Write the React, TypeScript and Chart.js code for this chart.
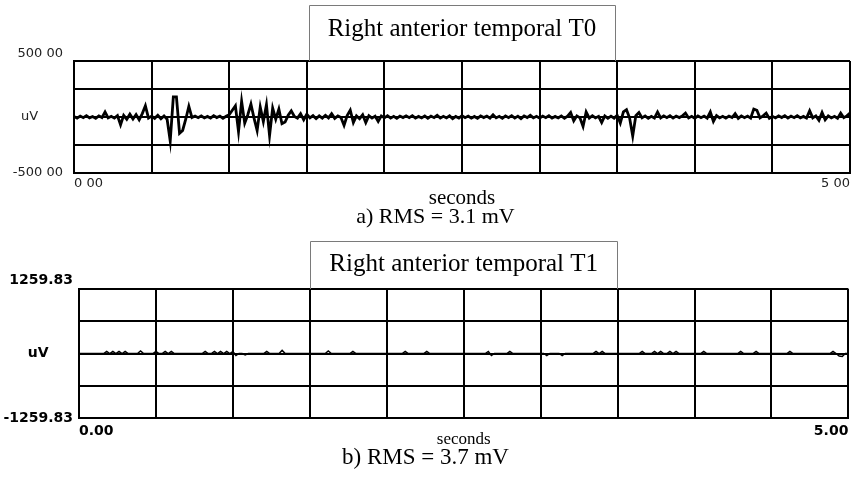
import React, { useEffect, useRef } from 'react';
import { Chart, registerables } from 'chart.js';

Chart.register(...registerables);

// ---------- data ----------
const TIME_STEP_S = 0.02; // one sample every 20 ms, 0 .. 5 s

const xTickValues = [0, 0.5, 1, 1.5, 2, 2.5, 3, 3.5, 4, 4.5, 5];
const topXTickLabels = ['0 00', '', '', '', '', '', '', '', '', '', '5 00'];
const bottomXTickLabels = ['0.00', '', '', '', '', '', '', '', '', '', '5.00'];

const topYTickValues = [-500, -250, 0, 250, 500];
const topYTickLabels = ['-500 00', '', 'uV', '', '500 00'];
const bottomYTickValues = [-1259.83, -629.915, 0, 629.915, 1259.83];
const bottomYTickLabels = ['-1259.83', '', 'uV', '', '1259.83'];

const topTitle = 'Right anterior temporal T0';
const topCaption = 'a) RMS = 3.1 mV';
const bottomTitle = 'Right anterior temporal T1';
const bottomCaption = 'b) RMS = 3.7 mV';
const xAxisTitle = 'seconds';

// T0 signal in uV (251 samples)
const topSignalUV = [
  5, -10, 8, -6, 12, -8, 4, -12, 10, -5,
  45, -8, 6, -10, 12, -70, 15, -20, 25, -18,
  22, -25, 30, 100, -10, 8, -12, 15, -15, 10,
  -20, -215, 180, 180, -145, -120, -20, 95, -5, 8,
  -6, 10, -8, 5, -10, 12, -5, 8, -12, 6,
  20, 60, 100, -130, 140, -55, 20, 115, -10, -120,
  90, -40, 110, -165, 80, -20, 70, -60, -45, 15,
  55, 5, -10, 30, -25, 25, -8, 12, -15, 10,
  -10, 15, -8, 30, -12, 10, -5, -75, 12, 60,
  -50, 10, -15, 20, -50, 12, -10, 8, -40, 10,
  -8, 12, -10, 6, -12, 8, -5, 10, -6, 12,
  -10, 5, -8, 10, -12, 8, -6, 15, -10, 6,
  -8, 10, -15, 5, -10, 12, -6, 8, -10, 5,
  -12, 10, -5, 8, -10, 20, -8, 6, -12, 10,
  -6, 12, -10, 8, -14, 10, -5, 15, -8, 6,
  -10, 8, -6, 12, -10, 5, -8, 10, -12, 8,
  40, -35, 10, -8, -85, 45, -10, 12, -8, 6,
  -50, 10, -12, 8, -10, 15, -55, 45, 65, -10,
  -170, 12, 40, -8, 10, -12, 6, -10, 45, -8,
  10, -6, 12, -10, 8, -5, 10, 35, -8, 6,
  -12, 10, -6, 8, -10, 45, -40, 12, -8, 6,
  -10, 8, -5, 30, -12, 10, -6, 8, -10, 70,
  60, -8, 10, 35, -12, 6, -8, 10, -5, 12,
  -10, 8, -6, 12, -8, 5, -10, 55, -8, 10,
  -30, 40, -25, 10, -8, 6, -12, 35, -6, 10, 35,
];

// T1 signal in uV (251 samples)
const bottomSignalUV = [
  0, 0, 0, 0, 0, 0, 0, 0, 0, 40,
  0, 40, 0, 40, 0, 40, 0, 0, 0, 0,
  50, 0, 0, 0, 0, 40, 0, 0, 40, 0,
  40, 0, 0, 0, 0, 0, 0, 0, 0, 0,
  0, 40, 0, 0, 40, 0, 40, 0, 40, 0,
  40, -40, 0, 0, -30, 0, 0, 0, 0, 0,
  0, 40, 0, 0, 0, 0, 60, 0, 0, 0,
  0, 0, 0, 0, 0, 0, 0, 0, 0, 0,
  0, 50, 0, 0, 0, 0, 0, 0, 0, 40,
  0, 0, 0, 0, 0, 0, 0, 0, 0, 0,
  0, 0, 0, 0, 0, 0, 40, 0, 0, 0,
  0, 0, 0, 40, 0, 0, 0, 0, 0, 0,
  0, 0, 0, 0, 0, 0, 0, 0, 0, 0,
  0, 0, 0, 40, -40, 0, 0, 0, 0, 0,
  40, 0, 0, 0, 0, 0, 0, 0, 0, 0,
  0, 0, -40, 0, 0, 0, 0, -40, 0, 0,
  0, 0, 0, 0, 0, 0, 0, 0, 40, 0,
  40, 0, 0, 0, 0, 0, 0, 0, 0, 0,
  0, 0, 0, 40, 0, 0, 0, 40, 0, 40,
  0, 0, 40, 0, 40, 0, 0, 0, 0, 0,
  0, 0, 0, 40, 0, 0, 0, 0, 0, 0,
  0, 0, 0, 0, 0, 40, 0, 0, 0, 0,
  40, 0, 0, 0, 0, 0, 0, 0, 0, 0,
  0, 40, 0, 0, 0, 0, 0, 0, 0, 0,
  0, 0, 0, 0, 0, 40, 0, -50, -60, 0, 0,
];

// ---------- styling helpers ----------
const SERIF = '"Liberation Serif", "Times New Roman", serif';
const SANS = '"DejaVu Sans", sans-serif';

function buildPoints(values: number[]) {
  return values.map((v, i) => ({ x: i * TIME_STEP_S, y: v }));
}

function titleBoxPlugin(text: string, size: number, padX: number) {
  return {
    id: 'titleBox',
    afterDraw(chart: any) {
      const t = chart.titleBlock;
      if (!t) return;
      const ctx = chart.ctx as CanvasRenderingContext2D;
      ctx.save();
      ctx.font = `normal ${size}px ${SERIF}`;
      const w = ctx.measureText(text).width;
      const cx = (t.left + t.right) / 2;
      const x0 = Math.round(cx - w / 2 - padX) + 0.5;
      const x1 = Math.round(cx + w / 2 + padX) + 0.5;
      const y0 = Math.round(t.top) + 0.5;
      const y1 = Math.round(t.bottom);
      ctx.strokeStyle = '#7a7a7a';
      ctx.lineWidth = 1;
      ctx.beginPath();
      ctx.moveTo(x0, y1);
      ctx.lineTo(x0, y0);
      ctx.lineTo(x1, y0);
      ctx.lineTo(x1, y1);
      ctx.stroke();
      ctx.restore();
    },
  };
}

type PanelSpec = {
  title: string;
  caption: string;
  signal: number[];
  yTicks: number[];
  yLabels: string[];
  xLabels: string[];
  uvSpaces: number;
  traceWidth: number;
  layoutPadding: { top: number; left: number; right: number; bottom: number };
  titlePadding: { top: number; bottom: number };
  captionSize: number;
  captionPadding: { top: number; bottom: number };
  xAxisHeight: number;
  xTickPadding: number;
  xTitleSize: number;
  xTitleLineHeight: number;
  yAxisWidth: number;
  yTickPadding: number;
  tickFont: any;
  tickColor: string;
};

function makeChart(canvas: HTMLCanvasElement, spec: PanelSpec) {
  const last = spec.yTicks.length - 1;
  return new Chart(canvas, {
    type: 'line',
    data: {
      datasets: [
        {
          data: buildPoints(spec.signal),
          borderColor: '#000',
          borderWidth: spec.traceWidth,
          borderJoinStyle: 'miter',
          pointRadius: 0,
          tension: 0,
          fill: false,
        } as any,
      ],
    },
    options: {
      animation: false,
      responsive: false,
      devicePixelRatio: 1,
      events: [],
      layout: { padding: spec.layoutPadding },
      plugins: {
        legend: { display: false },
        tooltip: { enabled: false },
        title: {
          display: true,
          text: spec.title,
          position: 'top',
          fullSize: false,
          align: 'center',
          color: '#000',
          font: { family: SERIF, size: 25, weight: 'normal', lineHeight: 1.2 },
          padding: spec.titlePadding,
        },
        subtitle: {
          display: true,
          text: spec.caption,
          position: 'bottom',
          fullSize: true,
          align: 'center',
          color: '#000',
          font: { family: SERIF, size: spec.captionSize, weight: 'normal', lineHeight: 0.6 },
          padding: spec.captionPadding,
        },
      },
      scales: {
        x: {
          type: 'linear',
          min: 0,
          max: 5,
          afterBuildTicks: (s: any) => {
            s.ticks = xTickValues.map((v) => ({ value: v }));
          },
          afterFit: (s: any) => {
            s.height = spec.xAxisHeight;
          },
          grid: { color: '#000', lineWidth: 2, drawTicks: false },
          border: { color: '#000', width: 2 },
          ticks: {
            autoSkip: false,
            maxRotation: 0,
            minRotation: 0,
            align: 'inner',
            padding: spec.xTickPadding,
            color: spec.tickColor,
            font: spec.tickFont,
            callback: (_v: any, i: number) => spec.xLabels[i],
          },
          title: {
            display: true,
            text: xAxisTitle,
            color: '#000',
            font: { family: SERIF, size: spec.xTitleSize, weight: 'normal', lineHeight: spec.xTitleLineHeight },
            padding: { top: 0, bottom: 0 },
          },
        },
        y: {
          type: 'linear',
          min: spec.yTicks[0],
          max: spec.yTicks[last],
          afterBuildTicks: (s: any) => {
            s.ticks = spec.yTicks.map((v) => ({ value: v }));
          },
          afterFit: (s: any) => {
            s.width = spec.yAxisWidth;
            // let the tick labels extend into the layout padding without being clipped
            s._computeLabelArea = () => undefined;
          },
          grid: { color: '#000', lineWidth: 2, drawTicks: false },
          border: { color: '#000', width: 2 },
          ticks: {
            autoSkip: false,
            padding: spec.yTickPadding,
            color: spec.tickColor,
            font: spec.tickFont,
            callback: (_v: any, i: number) => {
              const lbl = spec.yLabels[i];
              if (lbl === 'uV') return lbl + ' '.repeat(spec.uvSpaces);
              if (i === last) return [lbl, ''];
              return lbl;
            },
          },
        },
      },
    } as any,
    plugins: [titleBoxPlugin(spec.title, 25, 19)],
  });
}

export default function App() {
  const topRef = useRef<HTMLCanvasElement | null>(null);
  const bottomRef = useRef<HTMLCanvasElement | null>(null);

  useEffect(() => {
    const charts: Chart[] = [];
    if (topRef.current) {
      charts.push(
        makeChart(topRef.current, {
          title: topTitle,
          caption: topCaption,
          signal: topSignalUV,
          yTicks: topYTickValues,
          yLabels: topYTickLabels,
          xLabels: topXTickLabels,
          uvSpaces: 6,
          traceWidth: 2.8,
          layoutPadding: { top: 5, left: 20, right: 2, bottom: 6.6 },
          titlePadding: { top: 9, bottom: 17 },
          captionSize: 22,
          captionPadding: { top: 0, bottom: 0 },
          xAxisHeight: 37.2,
          xTickPadding: 3,
          xTitleSize: 21,
          xTitleLineHeight: 1.1,
          yAxisWidth: 54,
          yTickPadding: 11,
          tickFont: { family: SANS, size: 13, weight: 'normal' },
          tickColor: '#222',
        })
      );
    }
    if (bottomRef.current) {
      charts.push(
        makeChart(bottomRef.current, {
          title: bottomTitle,
          caption: bottomCaption,
          signal: bottomSignalUV,
          yTicks: bottomYTickValues,
          yLabels: bottomYTickLabels,
          xLabels: bottomXTickLabels,
          uvSpaces: 5,
          traceWidth: 1.5,
          layoutPadding: { top: 10.7, left: 0, right: 2, bottom: 12.1 },
          titlePadding: { top: 8.4, bottom: 9.9 },
          captionSize: 23,
          captionPadding: { top: 1.1, bottom: 0 },
          xAxisHeight: 32,
          xTickPadding: 4.6,
          xTitleSize: 17,
          xTitleLineHeight: 1.2,
          yAxisWidth: 79,
          yTickPadding: 6,
          tickFont: { family: SANS, size: 14, weight: 'bold' },
          tickColor: '#000',
        })
      );
    }
    return () => {
      charts.forEach((c) => c.destroy());
    };
  }, []);

  return (
    <div style={{ position: 'absolute', left: 0, top: 0, width: 853, height: 477, background: '#fff' }}>
      <canvas ref={topRef} width={853} height={230} style={{ display: 'block', width: 853, height: 230 }} />
      <canvas ref={bottomRef} width={853} height={247} style={{ display: 'block', width: 853, height: 247 }} />
    </div>
  );
}
